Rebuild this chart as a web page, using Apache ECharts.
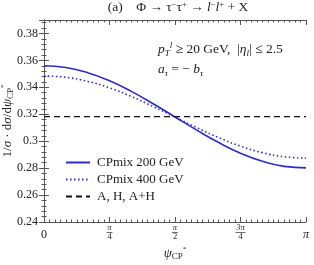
<!DOCTYPE html>
<html><head><meta charset="utf-8">
<script src="https://cdn.jsdelivr.net/npm/echarts@6/dist/echarts.min.js"></script>
<style>html,body{margin:0;padding:0;background:#fff}#c{width:314px;height:265px}</style>
</head><body><div id="c"></div>
<script>
// psi_CP* in degrees (0..180 == 0..pi)
const psiDeg = [0, 15, 30, 45, 60, 75, 90, 105, 120, 135, 150, 165, 180];
const cpmix200 = [0.3560, 0.3547, 0.3509, 0.3449, 0.3370, 0.3278, 0.3180, 0.3082, 0.2990, 0.2911, 0.2851, 0.2813, 0.2802];
const cpmix400 = [0.3484, 0.3474, 0.3444, 0.3396, 0.3332, 0.3257, 0.3179, 0.3101, 0.3027, 0.2963, 0.2915, 0.2885, 0.2875];
const aHAH     = [0.3183, 0.3183, 0.3183, 0.3183, 0.3183, 0.3183, 0.3183, 0.3183, 0.3183, 0.3183, 0.3183, 0.3183, 0.3183];
const seriesNames = ['CPmix 200 GeV', 'CPmix 400 GeV', 'A, H, A+H'];
const xTickLabels = ['0', 'π/4', 'π/2', '3π/4', 'π'];

const FONT = 'Liberation Serif';
const BLUE = '#2b2bd6';
const AX = '#555';
const TXT = '#222';

function xfmt(v) {
  const s = xTickLabels[Math.round(v / 45)];
  if (s === undefined) return '';
  if (s.indexOf('/') < 0) return s === 'π' ? '{pi|π}' : '{w|' + s + '}';
  const parts = s.split('/');
  const wide = parts[0].length > 1;
  return '{n|' + parts[0] + '}\n{' + (wide ? 'bar2' : 'bar') + '| }\n{d|' + parts[1] + '}';
}

const chart = echarts.init(document.getElementById('c'), null, {renderer: 'canvas'});

const tickCommon = {show: true, inside: true, length: 5, lineStyle: {color: AX, width: 1}};
const minorX = {show: true, splitNumber: 12, length: 2.5, lineStyle: {color: AX, width: 1}};
const minorY = {show: true, splitNumber: 5, length: 2.5, lineStyle: {color: AX, width: 1}};
const nameRich = {
  i: {fontFamily: FONT, fontSize: 13, fontStyle: 'italic', color: TXT},
  sub: {fontFamily: FONT, fontSize: 9, verticalAlign: 'bottom', lineHeight: 15, color: TXT},
  sup: {fontFamily: FONT, fontSize: 7, verticalAlign: 'top', lineHeight: 15, color: TXT}
};

chart.setOption({
  animation: false,
  backgroundColor: '#fff',
  textStyle: {fontFamily: FONT},
  grid: {left: 44, right: 8, top: 20, bottom: 43, containLabel: false, outerBoundsMode: 'none'},
  title: {
    text: '(a)    Φ → τ{sup|−}τ{sup|+} → {i|l}{sup|−}{i|l}{sup|+} + X',
    left: 178, top: 0, padding: 0, textAlign: 'center',
    textStyle: {
      fontFamily: FONT, fontSize: 13.5, fontWeight: 'normal', color: TXT, lineHeight: 15,
      rich: {
        sup: {fontFamily: FONT, fontSize: 8.5, verticalAlign: 'top', lineHeight: 15, color: TXT},
        i: {fontFamily: FONT, fontSize: 13.5, fontStyle: 'italic', color: TXT}
      }
    }
  },
  legend: {
    orient: 'vertical', left: 65, top: 156, padding: 0,
    itemWidth: 24, itemHeight: 14, itemGap: 4,
    itemStyle: {opacity: 0, borderWidth: 0},
    textStyle: {fontFamily: FONT, fontSize: 13, color: TXT, padding: [0, 0, 0, 2]},
    data: seriesNames.map(n => ({name: n}))
  },
  graphic: [
    {
      type: 'text', left: 158, top: 41,
      style: {
        text: '{i|p}{sub|T}{sup|l} ≥ 20 GeV,  |{i|η}{sub|l}| ≤ 2.5',
        fontFamily: FONT, fontSize: 13.5, fill: TXT, lineHeight: 17,
        rich: {
          i: {fontFamily: FONT, fontSize: 13.5, fontStyle: 'italic', fill: TXT},
          sub: {fontFamily: FONT, fontSize: 9, fontStyle: 'italic', verticalAlign: 'bottom', lineHeight: 17, fill: TXT},
          sup: {fontFamily: FONT, fontSize: 9, fontStyle: 'italic', verticalAlign: 'top', lineHeight: 17, fill: TXT}
        }
      }
    },
    {
      type: 'text', left: 158, top: 61,
      style: {
        text: '{i|a}{sub|τ} = − {i|b}{sub|τ}',
        fontFamily: FONT, fontSize: 13.5, fill: TXT, lineHeight: 17,
        rich: {
          i: {fontFamily: FONT, fontSize: 13.5, fontStyle: 'italic', fill: TXT},
          sub: {fontFamily: FONT, fontSize: 9, fontStyle: 'italic', verticalAlign: 'bottom', lineHeight: 17, fill: TXT}
        }
      }
    }
  ],
  xAxis: [
    {
      type: 'value', min: 0, max: 180, interval: 45,
      name: '{i|ψ}{sub|CP}{sup|*}', nameLocation: 'middle', nameGap: 24, nameMoveOverlap: false,
      nameTextStyle: {fontFamily: FONT, fontSize: 13, color: TXT, lineHeight: 15, rich: nameRich},
      axisLine: {show: true, lineStyle: {color: AX, width: 1}},
      axisTick: tickCommon, minorTick: minorX, splitLine: {show: false},
      axisLabel: {
        margin: 2, formatter: xfmt, color: TXT, fontFamily: FONT,
        rich: {
          w: {fontFamily: FONT, fontSize: 12, lineHeight: 21, color: TXT},
          pi: {fontFamily: FONT, fontSize: 12, fontStyle: 'italic', lineHeight: 21, color: TXT},
          n: {fontFamily: FONT, fontSize: 8.5, fontStyle: 'italic', lineHeight: 7.5, color: TXT},
          d: {fontFamily: FONT, fontSize: 8.5, lineHeight: 7.5, color: TXT},
          bar: {width: 6, height: 0.7, lineHeight: 2, backgroundColor: '#333', fontSize: 1},
          bar2: {width: 10, height: 0.7, lineHeight: 2, backgroundColor: '#333', fontSize: 1}
        }
      }
    },
    {
      type: 'value', position: 'top', min: 0, max: 180, interval: 45,
      axisLine: {show: true, lineStyle: {color: AX, width: 1}},
      axisTick: tickCommon, minorTick: minorX, splitLine: {show: false},
      axisLabel: {show: false}
    }
  ],
  yAxis: [
    {
      type: 'value', min: 0.24, max: 0.39, interval: 0.02,
      name: '1/{i|σ} · d{i|σ}/d{i|ψ}{sub|CP}{sup|*}', nameLocation: 'middle', nameGap: 29, nameRotate: 90,
      nameMoveOverlap: false,
      nameTextStyle: {fontFamily: FONT, fontSize: 13, color: TXT, lineHeight: 15, rich: nameRich},
      axisLine: {show: true, lineStyle: {color: AX, width: 1}},
      axisTick: tickCommon, minorTick: minorY, splitLine: {show: false},
      axisLabel: {margin: 6, fontFamily: FONT, fontSize: 12, color: TXT,
        formatter: v => (v > 0.385 ? '' : String(+v.toFixed(2)))}
    },
    {
      type: 'value', position: 'right', min: 0.24, max: 0.39, interval: 0.02,
      axisLine: {show: true, lineStyle: {color: AX, width: 1}},
      axisTick: tickCommon, minorTick: minorY, splitLine: {show: false},
      axisLabel: {show: false}
    }
  ],
  series: [
    {
      name: seriesNames[0], type: 'line', smooth: true, symbol: 'none',
      data: psiDeg.map((x, i) => [x, cpmix200[i]]),
      lineStyle: {color: BLUE, width: 1.6, type: 'solid'}, itemStyle: {color: BLUE}
    },
    {
      name: seriesNames[1], type: 'line', smooth: true, symbol: 'none',
      data: psiDeg.map((x, i) => [x, cpmix400[i]]),
      lineStyle: {color: BLUE, width: 1.6, type: [1.5, 2.5]}, itemStyle: {color: BLUE}
    },
    {
      name: seriesNames[2], type: 'line', smooth: false, symbol: 'none',
      data: psiDeg.map((x, i) => [x, aHAH[i]]),
      lineStyle: {color: '#111', width: 1.3, type: [6, 4]}, itemStyle: {color: '#111'}
    }
  ]
});
</script></body></html>
